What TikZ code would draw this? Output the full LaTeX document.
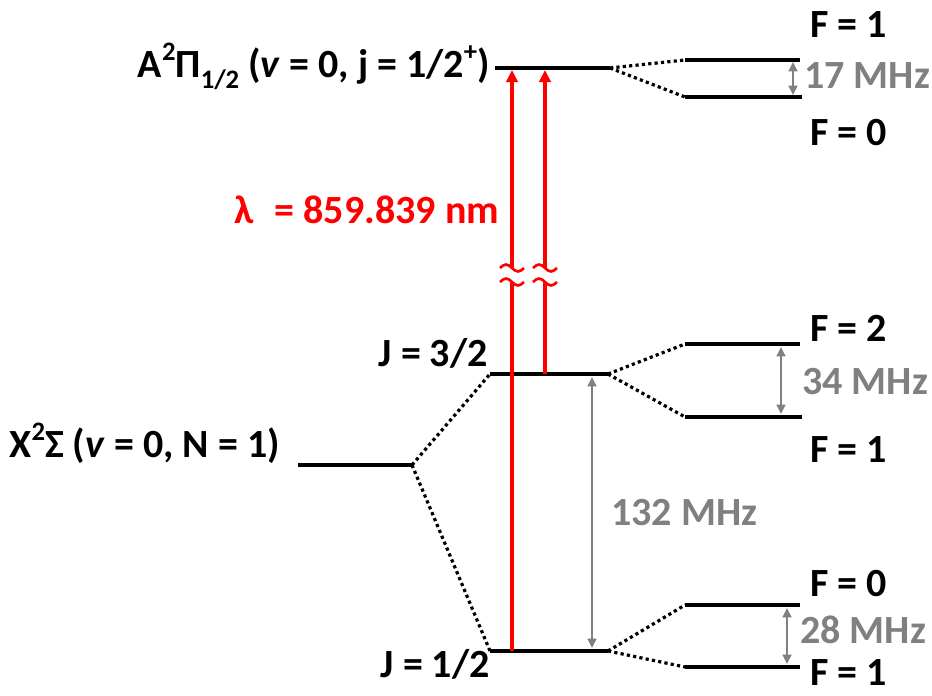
\documentclass[tikz,border=0pt]{standalone}
\usepackage{fontspec}
\setmainfont{Carlito}
\usetikzlibrary{arrows.meta}
\definecolor{gray50}{RGB}{128,128,128}
\newcommand\mysub[1]{\raisebox{-0.28em}{\fontsize{20}{22}\selectfont #1}}
\newcommand\mysup[1]{\raisebox{0.42em}{\fontsize{20}{22}\selectfont #1}}
\begin{document}
\begin{tikzpicture}[x=0.75pt,y=-0.75pt,
  lvl/.style={line width=2.4pt},
  conn/.style={line width=2.4pt, dash pattern=on 2.4pt off 2.4pt},
  laser/.style={red, line width=3pt, -{Triangle[length=9pt,width=8.5pt]}},
  laserseg/.style={red, line width=3pt},
  split/.style={gray50, line width=1.7pt, {Triangle[length=7pt,width=6.5pt]}-{Triangle[length=7pt,width=6.5pt]}},
  brk/.style={red, line width=2pt},
  lab/.style={inner sep=0pt, font=\fontsize{30}{36}\selectfont\bfseries},
  glab/.style={lab, text=gray50},
  rlab/.style={lab, text=red}]
\useasboundingbox (0,0) rectangle (932,696);

% ---- level coordinates ----
\coordinate (A1) at (495,68);  \coordinate (A2) at (610,68);
\coordinate (AF1a) at (685,60); \coordinate (AF1b) at (800,60);
\coordinate (AF0a) at (685,97); \coordinate (AF0b) at (802,97);

\coordinate (X1) at (298,465); \coordinate (X2) at (412,465);

\coordinate (J3a) at (490,374); \coordinate (J3b) at (608,374);
\coordinate (J3F2a) at (685,344); \coordinate (J3F2b) at (800,344);
\coordinate (J3F1a) at (685,417); \coordinate (J3F1b) at (802,417);

\coordinate (J1a) at (490,651); \coordinate (J1b) at (608,651);
\coordinate (J1F0a) at (685,605); \coordinate (J1F0b) at (800,605);
\coordinate (J1F1a) at (685,667); \coordinate (J1F1b) at (800,667);

% ---- levels ----
\draw[lvl] (A1) -- (A2);
\draw[lvl] (AF1a) -- (AF1b);
\draw[lvl] (AF0a) -- (AF0b);
\draw[lvl] (X1) -- (X2);
\draw[lvl] (J3a) -- (J3b);
\draw[lvl] (J3F2a) -- (J3F2b);
\draw[lvl] (J3F1a) -- (J3F1b);
\draw[lvl] (J1a) -- (J1b);
\draw[lvl] (J1F0a) -- (J1F0b);
\draw[lvl] (J1F1a) -- (J1F1b);

% ---- dotted correlations ----
\draw[conn] (A2) -- (AF1a);
\draw[conn] (A2) -- (AF0a);
\draw[conn] (X2) -- (J3a);
\draw[conn] (X2) -- (J1a);
\draw[conn] (J3b) -- (J3F2a);
\draw[conn] (J3b) -- (J3F1a);
\draw[conn] (J1b) -- (J1F0a);
\draw[conn] (J1b) -- (J1F1a);

% ---- laser arrows with breaks ----
\coordinate (L1s) at (512,651); \coordinate (L1e) at (512,70);
\coordinate (L1lo) at (512,282); \coordinate (L1hi) at (512,268);
\coordinate (L2s) at (545,374); \coordinate (L2e) at (545,70);
\coordinate (L2lo) at (545,282); \coordinate (L2hi) at (545,268);
\draw[laserseg] (L1s) -- (L1lo);
\draw[laser] (L1hi) -- (L1e);
\draw[laserseg] (L2s) -- (L2lo);
\draw[laser] (L2hi) -- (L2e);
\foreach \c in {L1hi,L1lo,L2hi,L2lo}{
  \draw[brk] ([xshift=-9pt]\c) sin ([xshift=-4.5pt,yshift=2.6pt]\c) cos (\c)
    sin ([xshift=4.5pt,yshift=-2.6pt]\c) cos ([xshift=9pt]\c);
}

% ---- splitting arrows ----
\coordinate (s17a) at (793,62);  \coordinate (s17b) at (793,95);
\coordinate (s34a) at (781,347); \coordinate (s34b) at (781,414);
\coordinate (s28a) at (787,608); \coordinate (s28b) at (787,664);
\coordinate (s132a) at (592,377); \coordinate (s132b) at (592,648);
\draw[split] (s17a) -- (s17b);
\draw[split] (s34a) -- (s34b);
\draw[split] (s28a) -- (s28b);
\draw[split] (s132a) -- (s132b);

% ---- labels ----
\node[lab, anchor=base east] (labA) at (490,77)
  {A\mysup{2}Π\mysub{1/2} (\textit{v} = 0, j = 1/2\mysup{+})};
\node[rlab, anchor=base west] (labL) at (234,223) {λ\hspace{0.3em} = 859.839 nm};
\node[lab, anchor=base east] (labJ3) at (488,366) {J = 3/2};
\node[lab, anchor=base east] (labX) at (280,457) {X\mysup{2}Σ (\textit{v} = 0, N = 1)};
\node[lab, anchor=base east] (labJ1) at (490,677) {J = 1/2};

\node[lab, anchor=base west] (fA1) at (810,37) {F = 1};
\node[lab, anchor=base west] (fA0) at (810,145) {F = 0};
\node[lab, anchor=base west] (fJ32) at (810,341) {F = 2};
\node[lab, anchor=base west] (fJ31) at (810,462) {F = 1};
\node[lab, anchor=base west] (fJ10) at (810,596) {F = 0};
\node[lab, anchor=base west] (fJ11) at (810,685) {F = 1};

\node[glab, anchor=base west] (m17) at (804,88) {17 MHz};
\node[glab, anchor=base west] (m34) at (802,394) {34 MHz};
\node[glab, anchor=base west] (m28) at (800,643) {28 MHz};
\node[glab, anchor=base west] (m132) at (611,525) {132 MHz};
\end{tikzpicture}
\end{document}
